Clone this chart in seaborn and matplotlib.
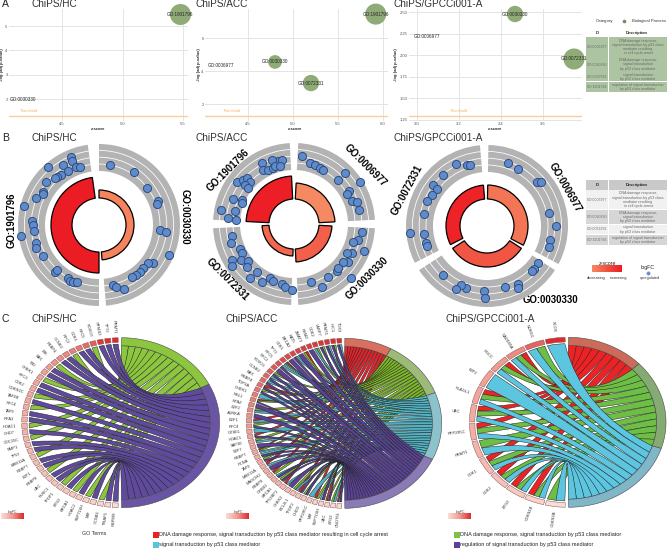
import numpy as np
import matplotlib
matplotlib.use("Agg")
import matplotlib.pyplot as plt
import seaborn as sns
from matplotlib.colors import LinearSegmentedColormap
from matplotlib.patches import PathPatch, Polygon, Rectangle
from matplotlib.path import Path

# ---- panel A: bubble plots (z-score, -log adj p, gene count, 0 = no bubble drawn)
a_ids = [
    ["GO:1901796", "GO:0030330"],
    ["GO:1901796", "GO:0030330", "GO:0072331", "GO:0006977"],
    ["GO:0030330", "GO:0072331", "GO:0006977"],
]
a_z = [[5.475, 4.18], [5.92, 4.80, 5.20, 4.20], [3.467, 3.748, 3.05]]
a_logp = [[5.48, 2.0], [7.45, 4.55, 3.27, 4.36], [2.477, 1.956, 2.22]]
a_count = [[40, 0], [40, 21, 27, 0], [27, 40, 0]]
a_xticks = [[4.5, 5.0, 5.5], [4.5, 5.0, 5.5, 6.0], [3.0, 3.2, 3.4, 3.6]]
a_yticks = [[2, 3, 4, 5], [2, 4, 6], [1.25, 1.50, 1.75, 2.00, 2.25, 2.50]]
threshold = 1.3

# ---- shared GO term table
table_ids = ["GO:0006977", "GO:0030330", "GO:0072331", "GO:1901796"]
table_desc = [
    "DNA damage response,\nsignal transduction by p53 class\nmediator resulting\nin cell cycle arrest",
    "DNA damage response,\nsignal transduction\nby p53 class mediator",
    "signal transduction\nby p53 class mediator",
    "regulation of signal transduction\nby p53 class mediator",
]

# ---- panel B: GOCircle sectors, degrees clockwise from the top
b_labels = [
    ["GO:1901796", "GO:0030330"],
    ["GO:1901796", "GO:0006977", "GO:0030330", "GO:0072331"],
    ["GO:0006977", "GO:0030330", "GO:0072331"],
]
b_start = [[180, 0], [273, 3, 93, 182], [1, 123, 243]]
b_end = [[352, 175], [357, 87, 177, 267], [118, 237, 355]]
b_height = [[21, 8], [23, 16, 13, 7], [14, 14, 14]]
b_zscore = [[5.5, 2.6], [5.4, 2.4, 3.6, 3.4], [3.0, 3.9, 5.3]]

hc_theta = [337.3, 336.9, 329.3, 338.5, 342, 329.9, 318.3, 322.8, 319.2, 316.7, 308.8, 300.9, 298.9,
            292.8, 284.3, 273.4, 270, 264.7, 262.2, 254.4, 249.7, 241.4, 223.3, 222.8, 210, 207.4,
            204.1, 201.3, 10.4, 33.5, 52.8, 68, 70.3, 94.7, 95.7, 113.1, 124.7, 127.9, 133.9,
            138.7, 143.5, 148, 166.6, 164.6, 158.7]
hc_fc = [73.4, 69.6, 69.8, 62.7, 61.3, 62.4, 77.2, 62.8, 63.8, 64.1, 68, 64.9, 63.6,
         68.7, 77, 66.8, 65.7, 65, 78.7, 65.8, 67.1, 64.1, 64.1, 61.3, 61.5, 63,
         62.8, 61.5, 61, 64, 60.7, 64, 61.3, 61.2, 67.3, 76.5, 66.1, 62.5, 61.5,
         62.1, 62.2, 61.7, 61.7, 64, 68.7]
acc_theta = [6.4, 14.7, 19.7, 24.9, 28.7, 45, 44.8, 57.7, 59.2, 60.6, 68.3, 70.4, 77.9,
             97, 104, 111.1, 106.6, 117, 118.8, 124.7, 127.9, 133.8, 138, 147.2, 155.8, 164, 134.8,
             259.4, 253.3, 245.5, 241, 240.2, 236.2, 235.5, 230.7, 227.8, 217.7, 219.2, 209.1,
             204, 199.8, 191.6, 188.1, 182,
             281.1, 275.2, 282.3, 274.3, 292.7, 295, 291.9, 306.5, 310.8, 314.6, 313.7, 308.8,
             308.3, 332.1, 330.6, 334.7, 339.7, 346, 340.9, 349.1, 341.8, 346.4]
acc_fc = [68.8, 63, 62.3, 61.7, 61.2, 62.7, 72.4, 78, 64.4, 60.4, 62, 66.5, 66.8,
          68.2, 66.3, 75, 62, 64.7, 60.9, 66.1, 62.5, 78.5, 63.7, 63.4, 69, 60.4, 62.5,
          63.4, 66.1, 59.4, 59.8, 71.8, 64.2, 74.8, 59, 63.8, 61, 69.6, 66.4,
          59.1, 60.9, 61.3, 64, 65.7,
          74.7, 66.6, 60.8, 58.2, 65.7, 57.7, 56.4, 70.5, 67.9, 65.5, 60.8, 62.8,
          58.1, 69, 62.4, 60.1, 59.7, 64.6, 68.1, 65.5, 60.7, 59.3]
gpc_theta = [333.8, 341.8, 344.6, 319, 307.4, 306.7, 299.1, 292.5, 281, 265, 262.5, 254.8, 251.6,
             18.3, 28.7, 48.7, 50.7, 77.9, 90.3, 102.3, 108.8,
             125.9, 132.4, 135, 151.7, 153.4, 163.3, 183, 181.9, 199, 203.4, 206, 221.7]
gpc_fc = [69.4, 63.9, 62.9, 67, 68, 62.4, 63, 64.6, 64.5, 77, 63.9, 63.6, 63.2,
          66.7, 64.6, 66.6, 69.4, 63.4, 69.3, 64.1, 65.1,
          63, 63.2, 64.1, 65.5, 69.3, 63.7, 65.4, 71.7, 65.6, 64.6, 69.8, 66]

# ---- panel C: GOChord genes listed from the top of the circle to the bottom,
# each code names the terms a gene belongs to
hc_genes = ["PRMT1", "TP73", "PPM1D", "FOXO3", "RFC5", "CDK1", "RFC2", "CCNE2", "RBBP4", "BIK",
            "BAX", "BID", "CHEK1", "RFC3", "CDK2", "CDKN2C", "TAF9B", "RFC4", "TAF9", "RPA3",
            "HDAC1", "CHD7", "CDC25C", "BMP1", "TP53", "MRE11A", "RBBP7", "E2F1", "RBBP8", "UBC",
            "RUSC1", "TFDP1", "BTG2", "BRCA1", "HDAC2", "SUPT16H", "MIF", "CCNB1", "TRIAP1", "RBPMS"]
hc_codes = list("PPPGPPGPPG" "PPGPPGPGPP" "GPGPPGPPGP" "PGPGPGPGPP")
hc_lfc = [9.0, 8.8, 8.6, 7.4, 7.0, 6.6, 6.3, 6.0, 5.8, 5.6, 5.4, 5.2, 5.0, 4.9, 4.8, 4.7, 4.6, 4.5, 4.4, 4.3,
          4.2, 4.1, 4.0, 3.9, 3.8, 3.7, 3.6, 3.5, 3.4, 3.3, 3.2, 3.1, 3.0, 2.9, 2.8, 2.6, 2.4, 2.2, 2.0, 1.8]

acc_genes = ["TOX3", "HIC1", "PRMT1", "LARP7", "CDK2", "RRM2", "ZMAT3", "KAT5", "BRCA2", "CDK1",
             "TP73", "RFC5", "RFC2", "FOXO3", "CCNE2", "BAX", "RBBP4", "TOP3A", "CHEK1", "RBL1",
             "RPA2", "E2F2", "AURKA", "E2F1", "RFC4", "GTSE1", "HDAC1", "SAP30", "E2F7", "RBBP7",
             "PCNA", "TAF9", "MRE11A", "MAGOH2", "RBBP8", "CREB1", "BRCA1", "TP53BP1", "CHEK2", "BCL2L1",
             "TFDP2", "CHD3", "PPP2R5C", "MIF", "SUPT16H", "UBC", "BTG2", "CNOT6L"]
acc_codes = ["TP", "GP", "TP", "GP", "GT", "P", "RG", "P", "TP", "P",
             "RGT", "TP", "P", "GP", "TP", "TP", "RP", "GP", "T", "RGP",
             "P", "GT", "P", "RT", "GP", "T", "RP", "GT", "P", "RGT",
             "TP", "GP", "RT", "P", "RG", "TP", "GP", "RT", "P", "GT",
             "RP", "GP", "T", "RG", "TP", "RGP", "GT", "RTP"]
acc_lfc = [9.0, 8.9, 8.8, 8.7, 8.6, 8.5, 8.4, 8.3, 8.2, 8.1, 8.0, 7.8, 7.6, 7.4, 7.2, 7.0, 6.8, 6.6, 6.4, 6.2,
           6.0, 5.8, 5.6, 5.4, 5.2, 5.0, 4.9, 4.8, 4.7, 4.6, 4.5, 4.4, 4.3, 4.2, 4.1, 4.0, 3.8, 3.6, 3.4, 3.2,
           3.0, 2.8, 2.6, 2.4, 2.2, 2.0, 1.8, 1.6]

gpc_genes = ["XCOX", "NDRG1", "GADD45A", "RGCC", "E2F2", "PLAGL1", "UBC", "PPP2R5C", "PRMT1", "CDK1",
             "CDK2", "BTG2", "CDKN1B", "CDKN2A"]
gpc_codes = ["T", "GT", "RGT", "RGT", "T", "RGT", "RGT", "RGT", "GT", "RGT", "RGT", "RGT", "RGT", "GT"]
gpc_lfc = [8.0, 6.6, 5.6, 5.2, 5.0, 4.8, 4.6, 4.4, 4.2, 3.9, 3.6, 3.3, 2.9, 2.4]

W, H = 667, 548
sns.set_theme(style="whitegrid")
plt.rcParams["font.family"] = ["Liberation Sans", "DejaVu Sans"]

GENE_CMAP = LinearSegmentedColormap.from_list("lfc", ["#fbdcd6", "#f19c92", "#dd2a2e"])
Z_CMAP = LinearSegmentedColormap.from_list("z", ["#f58a62", "#ec1c24"])


def px_axes(fig, x0, y0, x1, y1, **kw):
    """Axes placed by pixel box, y measured from the top of the figure."""
    return fig.add_axes([x0 / W, 1 - y1 / H, (x1 - x0) / W, (y1 - y0) / H], facecolor="none", **kw)


def draw_bubbles(fig, box, xlim, ylim, idx, thr_pos, yfmt):
    ax = px_axes(fig, *box)
    counts = np.array(a_count[idx])
    show = counts > 0
    sns.scatterplot(x=np.array(a_z[idx])[show], y=np.array(a_logp[idx])[show], size=counts[show],
                    sizes=(20, 300), size_norm=(10, 50), color="#8fac78", linewidth=0,
                    legend=False, clip_on=False, ax=ax, zorder=3)
    for name, z, lp in zip(a_ids[idx], a_z[idx], a_logp[idx]):
        ax.text(z, lp, name, fontsize=3.3, ha="center", va="center", color="#222222", zorder=4, clip_on=False)
    ax.axhline(threshold, color="#f8cf98", lw=1, zorder=2)
    ax.text(thr_pos, threshold + (ylim[1] - ylim[0]) * 0.025, "Threshold", color="#f3b765", fontsize=3,
            ha="center", va="bottom")
    ax.set_xlim(*xlim)
    ax.set_ylim(*ylim)
    ax.set_xticks(a_xticks[idx])
    ax.set_yticks(a_yticks[idx])
    ax.set_xticklabels([f"{v:.1f}" for v in a_xticks[idx]])
    ax.set_yticklabels([yfmt.format(v) for v in a_yticks[idx]])
    ax.tick_params(labelsize=3, labelcolor="#555555", length=0, pad=1)
    ax.grid(True, color="#e4e4e4", lw=0.7)
    ax.set_axisbelow(True)
    sns.despine(ax=ax, left=True, bottom=True)


def draw_circle(fig, cx, cy, idx, inner, theta, fc, label_xy, label_rot):
    ax = px_axes(fig, cx - 82, cy - 82, cx + 82, cy + 82, projection="polar")
    ax.set_theta_zero_location("N")
    ax.set_theta_direction(-1)
    for start, end, height, z in zip(b_start[idx], b_end[idx], b_height[idx], b_zscore[idx]):
        mid = np.radians((start + end) / 2)
        width = np.radians(end - start)
        for lo, hi in [(54, 60.6), (61.4, 67.4), (68.2, 74.2), (75, 81)]:
            ax.bar(mid, hi - lo, width=width, bottom=lo, color="#b3b3b3", linewidth=0)
        ax.bar(mid, height, width=width, bottom=inner, color=Z_CMAP((z - 2.4) / 3.1),
               edgecolor="black", linewidth=0.9)
    sns.scatterplot(x=np.radians(theta), y=fc, s=34, color="#5f8bcb", edgecolor="#2f4d80", linewidth=0.7,
                    legend=False, clip_on=False, ax=ax, zorder=3)
    ax.set_ylim(0, 82)
    ax.set_axis_off()
    for name, (x, y), rot in zip(b_labels[idx], label_xy, label_rot):
        overlay.text(x, y, name, fontsize=6.9, fontweight="bold", rotation=rot, ha="center", va="center",
                     color="black")


def ring_xy(center, deg, r):
    deg = np.radians(deg)
    cx, cy, rx, ry = center
    return np.column_stack([cx + rx * r * np.sin(deg), cy - ry * r * np.cos(deg)])


def draw_chord(center, genes, codes, lfc, term_keys, term_colors, band_colors, gap, inset, label_r):
    n = len(genes)
    step = 178.0 / n
    lo, hi = min(lfc), max(lfc)
    slots = {k: [] for k in term_keys}
    for i, (gene, code, val) in enumerate(zip(genes, codes, lfc)):
        top = 359 - i * step
        box = np.r_[ring_xy(center, np.linspace(top - gap / 2, top - step + gap / 2, 6), 1.0),
                    ring_xy(center, np.linspace(top - step + gap / 2, top - gap / 2, 6), 0.945)]
        overlay.add_patch(Polygon(box, closed=True, facecolor=GENE_CMAP((val - lo) / (hi - lo)),
                                  edgecolor="#7d5a5a", linewidth=0.35))
        mid = top - step / 2
        x, y = ring_xy(center, mid, label_r)[0]
        overlay.text(x, y, gene, fontsize=2.9, color="#333333", rotation=270 - mid, ha="center", va="center")
        sub = (step - 2 * inset) / len(code)
        for j, key in enumerate(code):
            slots[key].append((top - inset - j * sub, top - inset - (j + 1) * sub))

    per_rib = 179.0 / sum(len(v) for v in slots.values())
    c = np.array(center[:2])
    scale = np.array(center[2:])
    t = 0.5
    for key in term_keys:
        t_end = t + per_rib * len(slots[key])
        band = np.r_[ring_xy(center, np.linspace(t, t_end, 40), 1.0),
                     ring_xy(center, np.linspace(t_end, t, 40), 0.905)]
        overlay.add_patch(Polygon(band, closed=True, facecolor=band_colors[key], edgecolor="#4a4a4a",
                                  linewidth=0.4, zorder=4))
        # ribbons of one term run top to bottom on both sides, so they never cross each other
        for k, (g0, g1) in enumerate(slots[key]):
            t0, t1 = t + k * per_rib, t + (k + 1) * per_rib
            g_arc = ring_xy(center, np.linspace(g0, g1, 5), 0.925)
            t_arc = ring_xy(center, np.linspace(t1, t0, 5), 0.905)
            # long ribbons run almost straight across, short ones dip toward the centre
            chord = np.hypot(*((g_arc[2] - t_arc[2]) / scale)) / 2
            pull = 0.3 * chord ** 2
            ctrl_low = c + pull * ((g_arc[-1] - c) + (t_arc[0] - c))
            ctrl_up = c + pull * ((g_arc[0] - c) + (t_arc[-1] - c))
            verts = [*g_arc, ctrl_low, *t_arc, ctrl_up, g_arc[0]]
            code_path = [Path.MOVETO] + [Path.LINETO] * 4 + [Path.CURVE3, Path.CURVE3] + [Path.LINETO] * 4 \
                + [Path.CURVE3, Path.CURVE3]
            overlay.add_patch(PathPatch(Path(verts, code_path), facecolor=term_colors[key],
                                        edgecolor="#222222", linewidth=0.35, zorder=3))
        t = t_end


def draw_table(top, ids, descs, edges, fills, head_fill):
    if head_fill:
        overlay.add_patch(Rectangle((586, top), 22, edges[0] - top, facecolor=head_fill, linewidth=0))
        overlay.add_patch(Rectangle((608.5, top), 58.5, edges[0] - top, facecolor=head_fill, linewidth=0))
    overlay.text(598, (top + edges[0]) / 2, "ID", fontsize=2.9, fontweight="bold", ha="center", va="center",
                 color="#222222")
    overlay.text(637, (top + edges[0]) / 2, "Description", fontsize=2.9, fontweight="bold", ha="center",
                 va="center", color="#222222")
    for i, (gid, desc) in enumerate(zip(ids, descs)):
        y0, y1 = edges[i] + 0.4, edges[i + 1] - 0.4
        overlay.add_patch(Rectangle((586, y0), 22, y1 - y0, facecolor=fills[i], linewidth=0))
        overlay.add_patch(Rectangle((608.5, y0), 58.5, y1 - y0, facecolor=fills[i], linewidth=0))
        overlay.text(597, (y0 + y1) / 2, gid, fontsize=2.6, ha="center", va="center", color="#666666")
        overlay.text(638, (y0 + y1) / 2, desc, fontsize=2.6, ha="center", va="center", color="#666666",
                     linespacing=1.05)


fig = plt.figure(figsize=(W / 100, H / 100), dpi=100, facecolor="white")
overlay = fig.add_axes([0, 0, 1, 1], facecolor="none")

# panel letters and titles
for letter, y in [("A", 4), ("B", 138), ("C", 319)]:
    overlay.text(2, y, letter, fontsize=7.5, ha="left", va="center", color="#222222")
for y, xs in [(4, (31, 195, 393)), (138, (31, 195, 393)), (319, (31, 226, 446))]:
    for x, title in zip(xs, ["ChiPS/HC", "ChiPS/ACC", "ChiPS/GPCCi001-A"]):
        overlay.text(x, y, title, fontsize=7.2, ha="left", va="center", color="#333333")

# A
draw_bubbles(fig, (9, 9, 188, 121), (4.062, 5.541), (1.107, 5.70), 0, 4.23, "{:.0f}")
draw_bubbles(fig, (205, 9, 388, 121), (4.022, 6.056), (0.97, 7.76), 1, 4.32, "{:.0f}")
draw_bubbles(fig, (409, 9, 582, 121), (2.962, 3.786), (1.238, 2.535), 2, 3.2, "{:.2f}")
for x in (2.5, 199, 396):
    overlay.text(x, 65, "-log (adj p-value)", fontsize=3, fontweight="bold", rotation=90, ha="center", va="center")
for x in (98, 295, 495):
    overlay.text(x, 129.5, "z-score", fontsize=3, fontweight="bold", ha="center", va="center")
overlay.text(605, 21, "Category", fontsize=3.2, ha="center", va="center", color="#333333")
overlay.plot([624], [21], "o", ms=1.6, color="#6f8f5a")
overlay.text(666, 21, "Biological Process", fontsize=3.1, ha="right", va="center", color="#333333")
draw_table(29, table_ids, table_desc, [37, 57, 72, 81.5, 92.5], ["#adc4a2"] * 4, None)

# B
draw_circle(fig, 99, 225, 0, 27, hc_theta, hc_fc, [(12, 220), (185, 217)], [90, -90])
draw_circle(fig, 294, 224, 1, 25, acc_theta, acc_fc, [(228, 170), (365, 165), (367, 278), (227, 280)],
            [45, -45, 45, -45])
draw_circle(fig, 487, 226, 2, 27, gpc_theta, gpc_fc, [(565, 187), (550, 300), (407, 190)], [-60, 0, 62])
draw_table(180, table_ids, table_desc, [189.5, 209.7, 224.3, 234.6, 245],
           ["#f1f1f1", "#d6d6d6", "#f1f1f1", "#d6d6d6"], "#c9c9c9")
gradient = np.linspace(0, 1, 64)[None, :]
overlay.imshow(gradient, cmap=Z_CMAP, extent=(592.3, 622, 272.3, 266), aspect="auto", zorder=2)
overlay.text(607.5, 263.3, "z-score", fontsize=3.8, ha="center", va="center", color="#222222")
overlay.text(596, 278, "decreasing", fontsize=2.8, ha="center", va="center", color="#333333")
overlay.text(619, 278, "increasing", fontsize=2.8, ha="center", va="center", color="#333333")
overlay.text(648, 267, "logFC", fontsize=3.8, ha="center", va="center", color="#222222")
overlay.plot([648], [272.5], "o", ms=2.6, color="#5f8bcb", mec="#9db4d8", mew=0.3)
overlay.text(650, 278, "upregulated", fontsize=2.8, ha="center", va="center", color="#333333")

# C
draw_chord((120.7, 422.7, 99, 85), hc_genes, hc_codes, hc_lfc, ["G", "P"],
           {"G": "#8cc63f", "P": "#5f4a9e"}, {"G": "#8cc63f", "P": "#6a55a5"}, 1.0, 0.6, 1.13)
draw_chord((344, 423.3, 97.7, 85), acc_genes, acc_codes, acc_lfc, ["R", "G", "T", "P"],
           {"R": "#e4222a", "G": "#7db928", "T": "#4fb4c4", "P": "#5a4296"},
           {"R": "#d9705f", "G": "#9dbb78", "T": "#8cc2cc", "P": "#8a7ab5"}, 0.9, 0.4, 1.13)
draw_chord((567.7, 422.3, 98.3, 85), gpc_genes, gpc_codes, gpc_lfc, ["R", "G", "T"],
           {"R": "#ed2224", "G": "#6cbe45", "T": "#5cc5e0"},
           {"R": "#cd6b5a", "G": "#85ab72", "T": "#7fb6c8"}, 1.0, 0.8, 1.14)
for x0 in (1, 226, 448):
    overlay.imshow(gradient, cmap=GENE_CMAP, extent=(x0, x0 + 23, 519, 513.5), aspect="auto", zorder=2)
    overlay.text(x0 + 12, 511.5, "logFC", fontsize=2.6, ha="center", va="center", color="#444444")

# bottom legend
overlay.text(94, 533.7, "GO Terms", fontsize=3.9, ha="center", va="center", color="#333333")
legend_items = [
    (152.5, 534.5, "#ed2024", "DNA damage response, signal transduction by p53 class mediator resulting in cell cycle arrest"),
    (152.5, 544.5, "#58c4dd", "signal transduction by p53 class mediator"),
    (453.5, 534.5, "#7dc242", "DNA damage response, signal transduction by p53 class mediator"),
    (453.5, 544.5, "#5c4099", "regulation of signal transduction by p53 class mediator"),
]
for x, y, color, text in legend_items:
    overlay.add_patch(Rectangle((x, y - 3), 6, 6, facecolor=color, linewidth=0))
    overlay.text(x + 6.5, y, text, fontsize=4.0, ha="left", va="center", color="#222222")

overlay.set_xlim(0, W)
overlay.set_ylim(H, 0)
overlay.set_axis_off()

fig.savefig("out.png", dpi=100)
